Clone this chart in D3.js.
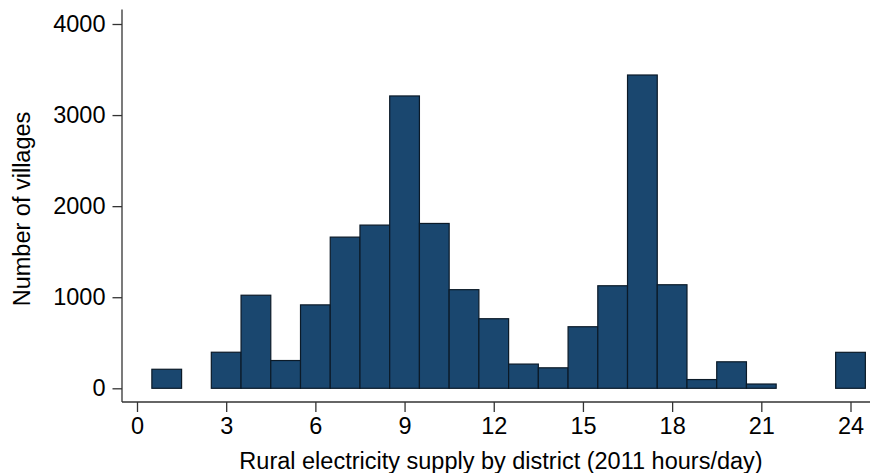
<!DOCTYPE html>
<html><head><meta charset="utf-8">
<script src="https://cdn.jsdelivr.net/npm/d3@7"></script>
<style>body{margin:0;background:#fff}svg{display:block}text{font-family:"Liberation Sans",Arial,sans-serif;fill:#000}</style>
</head><body>
<script>
const hours = [1,3,4,5,6,7,8,9,10,11,12,13,14,15,16,17,18,19,20,21,24];
const villages = [209,396,1022,305,916,1660,1792,3210,1810,1083,764,266,225,676,1126,3440,1137,96,291,47,395];
const xTicks = [0,3,6,9,12,15,18,21,24];
const yTicks = [0,1000,2000,3000,4000];
const xTitle = "Rural electricity supply by district (2011 hours/day)";
const yTitle = "Number of villages";

const W = 870, H = 473;
const svg = d3.select("body").append("svg").attr("width", W).attr("height", H);
const x = d3.scaleLinear().domain([0,24]).range([137, 850.5]);
const y = d3.scaleLinear().domain([0,4000]).range([388.3, 24]);
const binW = 1;

svg.append("g").selectAll("rect").data(hours).join("rect")
  .attr("x", (d)=>x(d - binW/2))
  .attr("width", (d)=>x(d + binW/2) - x(d - binW/2))
  .attr("y", (d,i)=>y(villages[i]))
  .attr("height", (d,i)=>y(0) - y(villages[i]))
  .attr("fill", "#1a476f")
  .attr("stroke", "#0b1a28")
  .attr("stroke-width", 1.2);

const fs = 23.5;
// Y axis
const ya = svg.append("g").attr("transform","translate(122,0)")
  .call(d3.axisLeft(y).tickValues(yTicks).tickFormat(d3.format("d")).tickSize(9.5).tickPadding(7).tickSizeOuter(0));
ya.select(".domain").attr("d", "M0,9.5V402").attr("stroke","#333").attr("stroke-width",1.3);
ya.selectAll(".tick line").attr("stroke","#333").attr("stroke-width",1.3);
ya.selectAll(".tick text").attr("font-size", fs).attr("font-family","Liberation Sans, Arial, sans-serif").attr("fill","#000");

// X axis
const xa = svg.append("g").attr("transform","translate(0,402)")
  .call(d3.axisBottom(x).tickValues(xTicks).tickFormat(d3.format("d")).tickSize(10).tickPadding(5.5).tickSizeOuter(0));
xa.select(".domain").attr("d", "M122,0H870").attr("stroke","#333").attr("stroke-width",1.3);
xa.selectAll(".tick line").attr("stroke","#333").attr("stroke-width",1.3);
xa.selectAll(".tick text").attr("font-size", fs).attr("font-family","Liberation Sans, Arial, sans-serif").attr("fill","#000");

svg.append("text").attr("x", 501).attr("y", 468.5).attr("text-anchor","middle")
  .attr("font-size", fs).text(xTitle);
svg.append("text").attr("transform","translate(29.5,209) rotate(-90)").attr("text-anchor","middle")
  .attr("font-size", fs).text(yTitle);
</script>
</body></html>
